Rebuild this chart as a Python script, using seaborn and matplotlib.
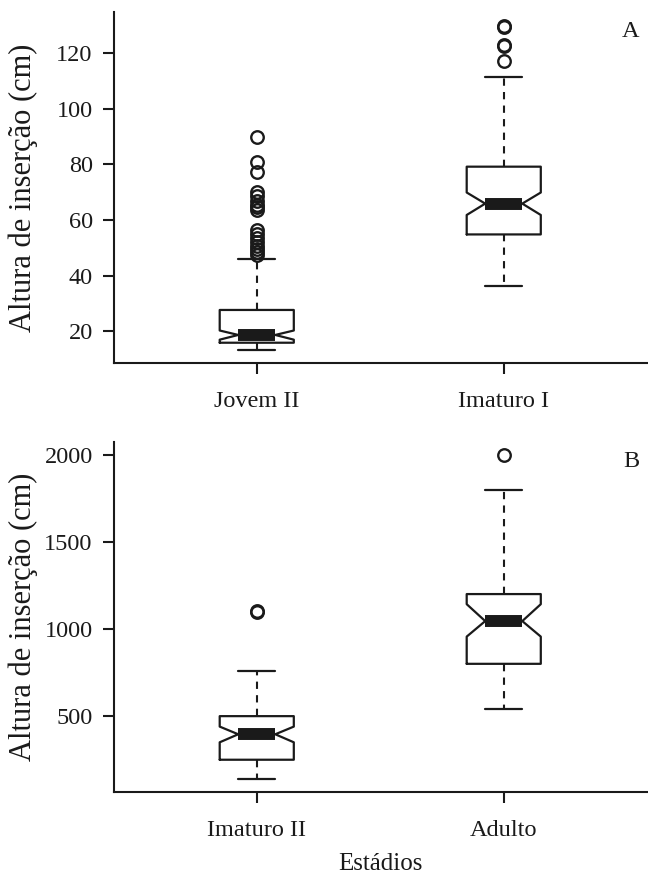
import matplotlib
matplotlib.use("Agg")
import matplotlib.pyplot as plt
import seaborn as sns

# ---- data ----
cats_a = ["Jovem II", "Imaturo I"]
whislo_a = [13.2, 36.2]
q1_a = [15.8, 54.8]
med_a = [18.6, 65.9]
q3_a = [27.6, 79.2]
whishi_a = [45.8, 111.6]
cilo_a = [16.9, 61.8]
cihi_a = [20.2, 69.9]
fliers_a = [
    [47.5, 48.5, 49.5, 50.5, 52.0, 53.5, 55.0, 56.5,
     63.5, 64.5, 65.5, 67.0, 68.5, 70.0, 77.4, 81.0, 90.0],
    [117.3, 122.5, 123.1, 129.6, 130.0],
]

cats_b = ["Imaturo II", "Adulto"]
whislo_b = [140, 540]
q1_b = [250, 800]
med_b = [396, 1045]
q3_b = [500, 1200]
whishi_b = [761, 1795]
cilo_b = [350, 956]
cihi_b = [440, 1142]
fliers_b = [[1099, 1102], [1995]]

ylabel = "Altura de inserção (cm)"
xlabel = "Estádios"

# ---- style ----
sns.set_theme(style="ticks")
plt.rcParams["font.family"] = ["Liberation Serif", "DejaVu Serif"]
plt.rcParams["axes.linewidth"] = 1.5

fig = plt.figure(figsize=(6.48, 8.75), dpi=100)
W, H = 648.0, 875.0
axA = fig.add_axes([113.5 / W, 1 - 363 / H, 533.5 / W, 351 / H])
axB = fig.add_axes([113.5 / W, 1 - 792 / H, 533.5 / W, 350 / H])

INK = "#1a1a1a"


def stats_list(cats, wl, q1, med, q3, wh, lo, hi, fl):
    return [
        dict(label=c, whislo=wl[i], q1=q1[i], med=med[i], q3=q3[i],
             whishi=wh[i], cilo=lo[i], cihi=hi[i], fliers=fl[i])
        for i, c in enumerate(cats)
    ]


def draw(ax, stats, ylim, yticks, letter):
    ax.bxp(
        stats, positions=[1, 2], widths=0.30, shownotches=True,
        patch_artist=False,
        boxprops=dict(color=INK, linewidth=1.6),
        medianprops=dict(color=INK, linewidth=8.6, solid_capstyle="butt"),
        whiskerprops=dict(color=INK, linewidth=1.5, linestyle=(0, (3.5, 3.0))),
        capprops=dict(color=INK, linewidth=1.6),
        flierprops=dict(marker="o", markerfacecolor="none", markeredgecolor=INK,
                        markersize=9, markeredgewidth=1.7),
    )
    ax.set_xlim(0.42, 2.58)
    ax.set_ylim(*ylim)
    ax.set_yticks(yticks)
    ax.set_xticks([1, 2])
    ax.set_xticklabels([s["label"] for s in stats])
    sns.despine(ax=ax)
    for sp in ("left", "bottom"):
        ax.spines[sp].set_color(INK)
        ax.spines[sp].set_linewidth(1.5)
    ax.tick_params(axis="both", direction="out", length=8, width=1.5,
                   colors=INK, labelsize=17.5)
    ax.tick_params(axis="y", pad=7)
    ax.tick_params(axis="x", pad=12)
    ax.set_ylabel(ylabel, fontsize=22, color=INK)
    ax.yaxis.set_label_coords(-0.142, 0.5)
    ax.text(0.985, 0.975, letter, transform=ax.transAxes, ha="right", va="top",
            fontsize=17.5, color=INK)
    ax.grid(False)


draw(axA, stats_list(cats_a, whislo_a, q1_a, med_a, q3_a, whishi_a, cilo_a, cihi_a, fliers_a),
     (8.5, 134.9), [20, 40, 60, 80, 100, 120], "A")
draw(axB, stats_list(cats_b, whislo_b, q1_b, med_b, q3_b, whishi_b, cilo_b, cihi_b, fliers_b),
     (65, 2072), [500, 1000, 1500, 2000], "B")
axB.set_xlabel(xlabel, fontsize=18, color=INK)
axB.xaxis.set_label_coords(0.5, -0.175)

fig.savefig("out.png", dpi=100, facecolor="white")
